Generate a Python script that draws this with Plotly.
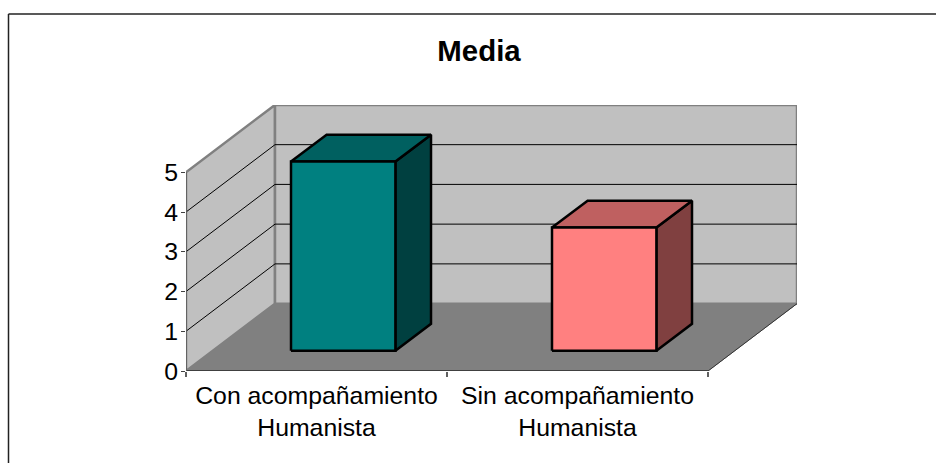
import plotly.graph_objects as go

# ---- data ----
categories = ["Con acompañamiento<br>Humanista", "Sin acompañamiento<br>Humanista"]
values = [4.76, 3.10]
y_ticks = [0, 1, 2, 3, 4, 5]
title_text = "Media"

front_colors = ["#008080", "#FF8080"]
top_colors = ["#006060", "#BF6060"]
side_colors = ["#004040", "#804040"]

# ---- oblique projection of the depth axis, in axis units ----
SHEAR_X = 89 / 261      # category units per full depth
SHEAR_Y = 67.3 / 39.7   # value units per full depth
X_MAX = 2.341
Y_MAX = 6.693
BAR_START, BAR_END = 0.30, 0.70


def proj(x, y, z):
    return x + z * SHEAR_X, y + z * SHEAR_Y


def poly(points, fill=None, line="#000000", width=1.0, close=True):
    pts = [proj(*p) for p in points]
    if close:
        pts.append(pts[0])
    return go.Scatter(
        x=[p[0] for p in pts], y=[p[1] for p in pts], mode="lines",
        fill="toself" if fill else "none", fillcolor=fill,
        line=dict(color=line, width=width), cliponaxis=False,
        hoverinfo="skip", showlegend=False,
    )


n = len(categories)
top = y_ticks[-1]
traces = [
    # side wall
    poly([(0, 0, 0), (0, 0, 1), (0, top, 1), (0, top, 0)], "#C0C0C0", "#808080", 2.5),
    # back wall
    poly([(0, 0, 1), (n, 0, 1), (n, top, 1), (0, top, 1)], "#C0C0C0", "#808080", 2.5),
]
# gridlines
for t in y_ticks[1:-1]:
    traces.append(poly([(0, t, 0), (0, t, 1), (n, t, 1)], None, "#000000", 1, close=False))
# floor
traces.append(poly([(0, 0, 0), (n, 0, 0), (n, 0, 1), (0, 0, 1)], "#808080", "#808080", 1))
# floor right edge and axis lines
traces.append(poly([(n, 0, 0), (n, 0, 1)], None, "#333333", 1, close=False))
traces.append(poly([(0, 0, 0), (n, 0, 0)], None, "#404040", 1.8, close=False))
traces.append(poly([(0, 0, 0), (0, top, 0)], None, "#606060", 1.8, close=False))

# bars
for i, v in enumerate(values):
    a, b = i + BAR_START, i + BAR_END
    z0, z1 = BAR_START, BAR_END
    traces.append(poly([(b, 0, z0), (b, 0, z1), (b, v, z1), (b, v, z0)], side_colors[i], "#000000", 2.5))
    traces.append(poly([(a, v, z0), (b, v, z0), (b, v, z1), (a, v, z1)], top_colors[i], "#000000", 2.5))
    traces.append(poly([(a, 0, z0), (b, 0, z0), (b, v, z0), (a, v, z0)], front_colors[i], "#000000", 2.5))

fig = go.Figure(traces)

FONT = "Liberation Sans, Arial, sans-serif"
L, T, PW, PH = 186, 105, 611, 265.7
fig.update_layout(
    width=936, height=463, autosize=False,
    margin=dict(l=L, r=936 - L - PW, t=T, b=463 - T - PH, pad=0),
    paper_bgcolor="#FFFFFF", plot_bgcolor="rgba(0,0,0,0)",
    font=dict(family=FONT, color="#000000", size=24.8),
    title=dict(text=f"<b>{title_text}</b>", x=479 / 936, xref="container", xanchor="center",
               y=1 - 51 / 463, yref="container", yanchor="middle",
               font=dict(family=FONT, size=29.4, color="#000000")),
    showlegend=False,
    xaxis=dict(range=[0, X_MAX], showgrid=False, zeroline=False, showline=False,
               tickmode="array", tickvals=[i + 0.5 for i in range(n)], ticktext=categories,
               ticks="", ticklabelstandoff=7,
               tickfont=dict(size=24.8, family=FONT, color="#000000"), tickangle=0,
               minor=dict(tickmode="array", tickvals=list(range(n + 1)), ticks="outside",
                          ticklen=5, tickwidth=1.5, tickcolor="#606060", showgrid=False)),
    yaxis=dict(range=[0, Y_MAX], showgrid=False, zeroline=False, showline=False,
               tickmode="array", tickvals=y_ticks, ticks="outside", ticklen=4, tickwidth=1.2,
               ticklabelstandoff=-2,
               tickcolor="#404040", tickfont=dict(size=24.8, family=FONT, color="#000000")),
    shapes=[
        dict(type="line", xref="paper", yref="paper",
             x0=(8.5 - L) / PW, x1=(8.5 - L) / PW,
             y0=(T + PH - 463) / PH, y1=(T + PH - 14) / PH,
             line=dict(color="#222222", width=1.5)),
        dict(type="line", xref="paper", yref="paper",
             x0=(8.5 - L) / PW, x1=(936 - L) / PW,
             y0=(T + PH - 14) / PH, y1=(T + PH - 14) / PH,
             line=dict(color="#222222", width=1.5)),
    ],
)

fig.write_html("out.html", config={"displayModeBar": False},
               post_script="document.body.style.margin='0';document.documentElement.style.overflow='hidden';")
